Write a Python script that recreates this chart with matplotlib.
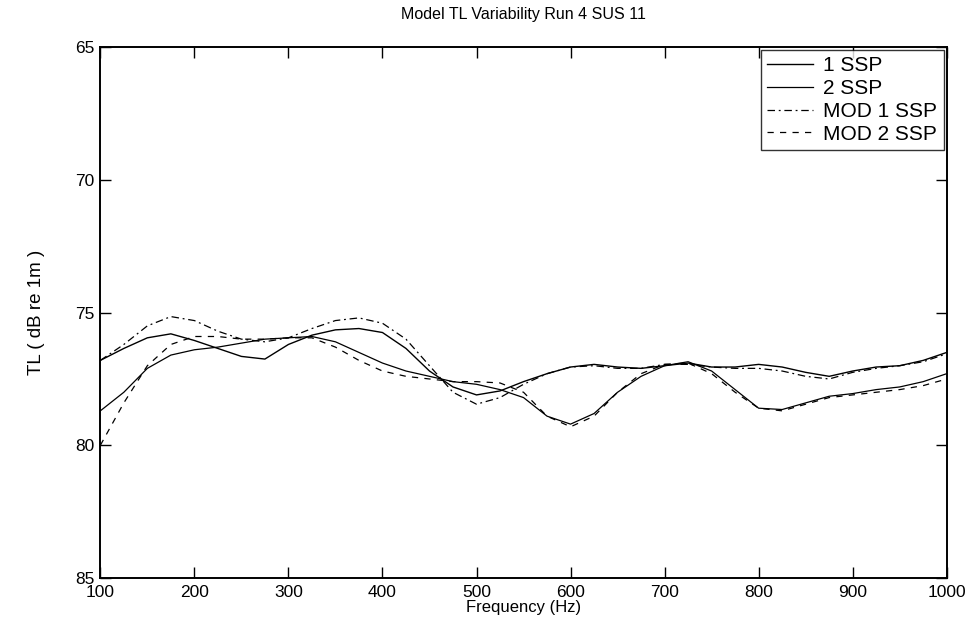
import matplotlib
matplotlib.use('Agg')
import matplotlib.pyplot as plt
import numpy as np

# Frequencies (Hz) and TL values (dB re 1m)
freq = [100, 125, 150, 175, 200, 225, 250, 275, 300, 325, 350, 375, 400,
        425, 450, 475, 500, 525, 550, 575, 600, 625, 650, 675, 700, 725,
        750, 775, 800, 825, 850, 875, 900, 925, 950, 975, 1000]

ssp1 = [76.8, 76.35, 75.95, 75.8, 76.05, 76.35, 76.65, 76.75, 76.2, 75.85, 75.65,
        75.6, 75.75, 76.35, 77.2, 77.8, 78.1, 77.95, 77.6, 77.3, 77.05, 76.95,
        77.05, 77.1, 77.0, 76.9, 77.05, 77.05, 76.95, 77.05, 77.25, 77.4,
        77.2, 77.05, 77.0, 76.8, 76.5]

ssp2 = [78.7, 78.0, 77.1, 76.6, 76.4, 76.3, 76.15, 76.0, 75.95, 75.9, 76.1,
        76.5, 76.9, 77.2, 77.4, 77.6, 77.7, 77.9, 78.2, 78.9, 79.2, 78.8,
        78.0, 77.4, 77.0, 76.85, 77.2, 77.9, 78.6, 78.65, 78.4, 78.15, 78.05,
        77.9, 77.8, 77.6, 77.3]

mod1 = [76.8, 76.2, 75.5, 75.15, 75.3, 75.7, 76.0, 76.1, 75.95, 75.6, 75.3,
        75.2, 75.4, 76.0, 77.0, 78.0, 78.45, 78.2, 77.7, 77.3, 77.05, 77.0,
        77.1, 77.1, 76.95, 76.95, 77.05, 77.1, 77.1, 77.2, 77.4, 77.5, 77.25,
        77.1, 77.0, 76.85, 76.55]

mod2 = [80.0, 78.4, 77.0, 76.2, 75.9, 75.9, 76.0, 76.0, 75.95, 75.95, 76.3,
        76.8, 77.2, 77.4, 77.5, 77.6, 77.6, 77.65, 78.0, 78.9, 79.3, 78.9,
        78.0, 77.3, 76.95, 76.9, 77.3, 78.0, 78.6, 78.7, 78.45, 78.2, 78.1,
        78.0, 77.9, 77.75, 77.5]

plt.rcParams['font.family'] = ['Liberation Sans', 'DejaVu Sans']

fig = plt.figure(figsize=(9.74, 6.19), dpi=100)
ax = fig.add_axes([0.103, 0.066, 0.869, 0.858])

ax.plot(freq, ssp1, color='black', lw=1.0, ls='-', label='1 SSP')
ax.plot(freq, ssp2, color='black', lw=0.9, ls='-', label='2 SSP')
ax.plot(freq, mod1, color='black', lw=0.9, ls=(0, (6, 3, 1.5, 3)), label='MOD 1 SSP')
ax.plot(freq, mod2, color='black', lw=0.9, ls=(0, (5, 5)), label='MOD 2 SSP')

ax.set_xlim(100, 1000)
ax.set_ylim(85, 65)
ax.set_xticks(np.arange(100, 1001, 100))
ax.set_yticks(np.arange(65, 86, 5))
ax.tick_params(direction='in', top=True, right=True, length=8, width=1, labelsize=12.5)
ax.tick_params(axis='x', pad=5)
ax.tick_params(axis='y', pad=4)
for s in ax.spines.values():
    s.set_linewidth(1.4)

ax.set_title('Model TL Variability Run 4 SUS 11', fontsize=11.5, pad=20)
ax.set_xlabel('Frequency (Hz)', fontsize=12, labelpad=0)
ax.set_ylabel('TL ( dB re 1m )', fontsize=13.5, labelpad=22)

leg = ax.legend(loc='upper right', fontsize=15, frameon=True, fancybox=False,
                handlelength=2.2, handletextpad=0.5, borderaxespad=0.15,
                labelspacing=0.18, borderpad=0.3)
leg.get_frame().set_edgecolor('black')
leg.get_frame().set_linewidth(1.0)

fig.savefig('out.png', dpi=100)
